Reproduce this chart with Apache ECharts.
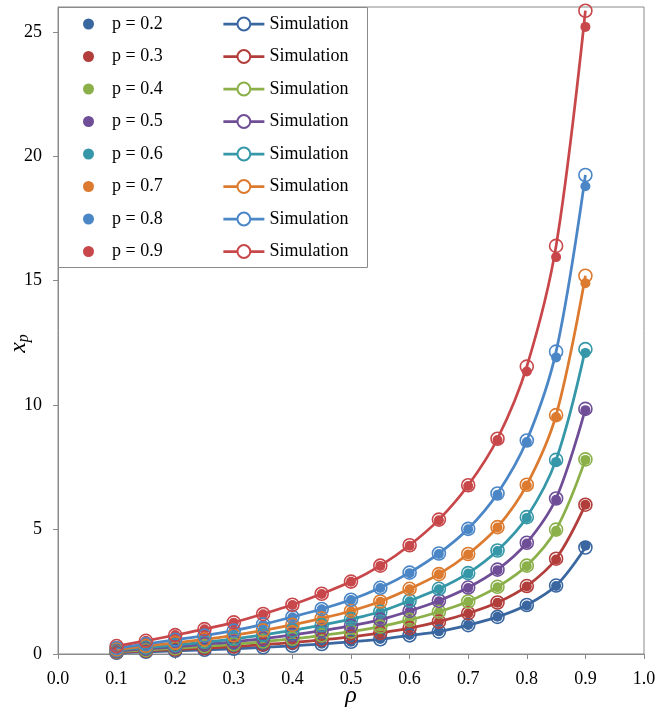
<!DOCTYPE html>
<html>
<head>
<meta charset="utf-8">
<script src="https://cdn.jsdelivr.net/npm/echarts@6/dist/echarts.min.js"></script>
<style>html,body{margin:0;padding:0;background:#fff}#c{width:660px;height:709px}</style>
</head>
<body>
<div id="c"></div>
<script>
// rho values (x)
const rho = [0.1,0.15,0.2,0.25,0.3,0.35,0.4,0.45,0.5,0.55,0.6,0.65,0.7,0.75,0.8,0.85,0.9];
const pLabels = ['p = 0.2','p = 0.3','p = 0.4','p = 0.5','p = 0.6','p = 0.7','p = 0.8','p = 0.9'];
const xTicks = ['0.0','0.1','0.2','0.3','0.4','0.5','0.6','0.7','0.8','0.9','1.0'];

// analytic values (filled dots)
const anP02 = [0.06,0.09,0.13,0.17,0.22,0.27,0.34,0.41,0.49,0.60,0.76,0.91,1.17,1.50,1.95,2.73,4.35];
const anP03 = [0.08,0.13,0.18,0.24,0.30,0.38,0.47,0.57,0.69,0.84,1.04,1.29,1.63,2.06,2.71,3.80,6.00];
const anP04 = [0.10,0.17,0.23,0.31,0.39,0.49,0.61,0.75,0.90,1.09,1.36,1.69,2.10,2.68,3.53,4.95,7.80];
const anP05 = [0.13,0.21,0.29,0.39,0.49,0.62,0.76,0.94,1.12,1.37,1.72,2.12,2.65,3.37,4.44,6.20,9.80];
const anP06 = [0.16,0.26,0.36,0.48,0.61,0.77,0.94,1.16,1.39,1.69,2.12,2.60,3.23,4.14,5.47,7.72,12.10];
const anP07 = [0.19,0.32,0.45,0.59,0.75,0.95,1.16,1.42,1.72,2.10,2.60,3.20,4.00,5.08,6.77,9.52,14.90];
const anP08 = [0.24,0.40,0.56,0.74,0.94,1.18,1.48,1.80,2.17,2.65,3.25,4.02,5.01,6.40,8.52,11.92,18.80];
const anP09 = [0.32,0.53,0.76,0.99,1.26,1.60,1.97,2.41,2.90,3.54,4.35,5.37,6.75,8.60,11.35,15.95,25.20];

// simulation values (open circles + smooth line)
const simP02 = [0.05,0.09,0.13,0.17,0.21,0.27,0.33,0.40,0.49,0.59,0.75,0.90,1.16,1.49,1.97,2.75,4.28];
const simP03 = [0.08,0.13,0.18,0.23,0.30,0.38,0.46,0.57,0.69,0.85,1.04,1.30,1.64,2.07,2.73,3.83,6.00];
const simP04 = [0.10,0.16,0.23,0.31,0.39,0.50,0.61,0.75,0.90,1.10,1.37,1.70,2.11,2.70,3.55,5.00,7.82];
const simP05 = [0.12,0.21,0.29,0.39,0.49,0.62,0.77,0.94,1.13,1.38,1.73,2.14,2.67,3.39,4.47,6.25,9.85];
const simP06 = [0.16,0.26,0.36,0.48,0.61,0.77,0.95,1.16,1.40,1.70,2.14,2.62,3.25,4.16,5.50,7.80,12.25];
const simP07 = [0.19,0.32,0.45,0.59,0.75,0.95,1.17,1.43,1.73,2.11,2.62,3.21,4.02,5.10,6.80,9.60,15.20];
const simP08 = [0.24,0.40,0.57,0.74,0.94,1.19,1.49,1.81,2.18,2.66,3.27,4.04,5.03,6.45,8.58,12.15,19.25];
const simP09 = [0.32,0.53,0.76,1.00,1.27,1.61,1.98,2.42,2.91,3.55,4.37,5.40,6.78,8.65,11.55,16.40,25.85];

const analytic = [anP02,anP03,anP04,anP05,anP06,anP07,anP08,anP09];
const simulation = [simP02,simP03,simP04,simP05,simP06,simP07,simP08,simP09];
const colors = ['#3A67A0','#B23E3B','#8BB04A','#6F4E97','#3597A8','#DC7B2F','#4B86C6','#C8474A'];

const FONT = '"Liberation Serif","Times New Roman",serif';
const series = [];
const anNames = [], simNames = [];
pLabels.forEach((lab, i) => {
  const simName = 'Simulation ' + lab;
  anNames.push(lab); simNames.push(simName);
  series.push({
    name: lab, type: 'scatter', symbol: 'circle', symbolSize: 10,
    itemStyle: {color: colors[i], opacity: 1},
    emphasis: {disabled: true},
    data: rho.map((x, k) => [x, analytic[i][k]])
  });
  series.push({
    name: simName, type: 'line', smooth: 0.35, symbol: 'circle', symbolSize: 13,
    showAllSymbol: true,
    itemStyle: {color: 'rgba(255,255,255,0)', borderColor: colors[i], borderWidth: 1.6},
    lineStyle: {color: colors[i], width: 2.75},
    emphasis: {disabled: true},
    data: rho.map((x, k) => [x, simulation[i][k]])
  });
});

const chart = echarts.init(document.getElementById('c'), null, {renderer: 'canvas'});
chart.setOption({
  animation: false,
  backgroundColor: '#fff',
  grid: {left: 58, right: 16, top: 7, bottom: 55, containLabel: false, outerBoundsMode: 'none',
    show: true, borderColor: '#8a8a8a', borderWidth: 1, backgroundColor: 'transparent'},
  graphic: [{
    type: 'rect', z: 3, left: 58, top: 7,
    shape: {width: 309, height: 260},
    style: {fill: '#fff', stroke: '#8a8a8a', lineWidth: 1}
  }],
  legend: [{
    data: anNames, orient: 'vertical', left: 83, top: 15, padding: 0,
    itemWidth: 23, itemHeight: 11, itemGap: 14.5, icon: 'circle',
    textStyle: {fontFamily: FONT, fontSize: 18, color: '#000', padding: [0, 0, 0, 7]}, selectedMode: false
  }, {
    data: simNames, orient: 'vertical', left: 222, top: 15, padding: 0,
    itemWidth: 41, itemHeight: 16, itemGap: 14.5,
    itemStyle: {color: '#fff'},
    lineStyle: {width: 2.75},
    formatter: () => 'Simulation',
    textStyle: {fontFamily: FONT, fontSize: 18, color: '#000'}, selectedMode: false
  }],
  xAxis: {
    type: 'value', min: 0, max: 1, interval: 0.1,
    name: 'ρ', nameLocation: 'middle', nameGap: 30, nameMoveOverlap: false,
    nameTextStyle: {fontFamily: FONT, fontSize: 24, fontStyle: 'italic', color: '#000'},
    axisLine: {show: true, onZero: false, lineStyle: {color: '#8a8a8a', width: 1}},
    axisTick: {show: true, inside: false, length: 5, lineStyle: {color: '#8a8a8a'}},
    axisLabel: {fontFamily: FONT, fontSize: 18, color: '#000', margin: 16,
      formatter: v => xTicks[Math.round(v * 10)]},
    splitLine: {show: false}
  },
  yAxis: {
    type: 'value', min: 0, max: 26, interval: 5,
    name: '{a|x}{b|p}', nameLocation: 'middle', nameGap: 26, nameRotate: 90, nameMoveOverlap: false,
    nameTextStyle: {fontFamily: FONT, color: '#000',
      rich: {a: {fontFamily: FONT, fontSize: 24, fontStyle: 'italic', color: '#000'},
             b: {fontFamily: FONT, fontSize: 16, fontStyle: 'italic', color: '#000', verticalAlign: 'bottom', padding: [10, 26, 0, 0]}}},
    axisLine: {show: true, lineStyle: {color: '#8a8a8a', width: 1}},
    axisTick: {show: true, inside: false, length: 5, lineStyle: {color: '#8a8a8a'}},
    axisLabel: {fontFamily: FONT, fontSize: 18, color: '#000', margin: 16, showMaxLabel: false},
    splitLine: {show: false}
  },
  series: series
});
</script>
</body>
</html>
